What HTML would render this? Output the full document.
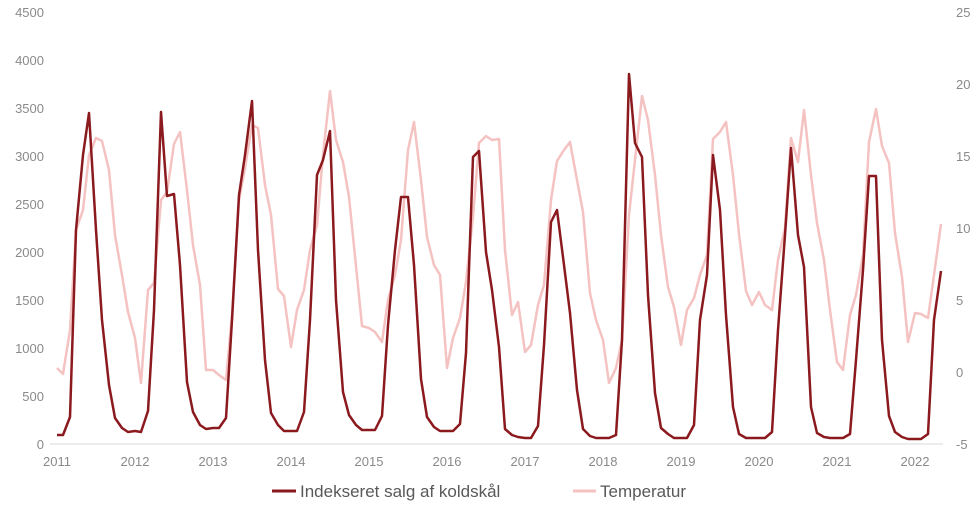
<!DOCTYPE html>
<html><head><meta charset="utf-8"><style>
html,body{margin:0;padding:0;background:#fff;}
svg{display:block;font-family:"Liberation Sans",sans-serif;}
</style></head><body>
<svg width="980" height="512" viewBox="0 0 980 512">
<line x1="50" y1="444" x2="943" y2="444" stroke="#d9d9d9" stroke-width="1"/>
<g fill="#8a8a8a" font-size="13" text-anchor="end">
<text x="44" y="449">0</text><text x="44" y="401">500</text><text x="44" y="353">1000</text>
<text x="44" y="305">1500</text><text x="44" y="257">2000</text><text x="44" y="209">2500</text>
<text x="44" y="161">3000</text><text x="44" y="113">3500</text><text x="44" y="65">4000</text>
<text x="44" y="17">4500</text>
</g>
<g fill="#8a8a8a" font-size="13" text-anchor="start">
<text x="956" y="449">-5</text><text x="956" y="377">0</text><text x="956" y="305">5</text>
<text x="956" y="233">10</text><text x="956" y="161">15</text><text x="956" y="89">20</text>
<text x="956" y="17">25</text>
</g>
<g fill="#8a8a8a" font-size="13" text-anchor="middle">
<text x="57" y="466">2011</text><text x="135" y="466">2012</text><text x="213" y="466">2013</text>
<text x="291" y="466">2014</text><text x="369" y="466">2015</text><text x="447" y="466">2016</text>
<text x="525" y="466">2017</text><text x="603" y="466">2018</text><text x="681" y="466">2019</text>
<text x="759" y="466">2020</text><text x="837" y="466">2021</text><text x="915" y="466">2022</text>
</g>
<polyline fill="none" stroke="#f5c2c2" stroke-width="2.5" stroke-linejoin="round" points="57,368 63,374 70,330 76,230 83,210 89,155 96,138 102,141 109,170 115,235 122,275 128,312 135,338 141,383 148,290 154,283 161,200 167,192 174,144 180,132 187,190 193,245 200,285 206,370 213,370 219,375 226,380 232,315 239,200 245,168 252,125 258,128 265,185 271,215 278,289 284,296 291,347 297,310 304,290 310,250 317,225 323,155 330,91 336,140 343,162 349,197 356,266 362,326 369,328 375,332 382,342 388,300 395,275 401,240 408,150 414,122 421,180 427,237 434,265 440,275 447,368 453,338 460,318 466,282 473,217 479,143 486,136 492,140 499,139 505,250 512,315 518,302 525,352 531,345 538,305 544,285 551,200 557,161 564,150 570,142 577,180 583,212 590,293 596,320 603,340 609,383 616,368 622,340 629,215 635,160 642,96 648,120 655,175 661,235 668,287 674,307 681,345 687,310 694,298 700,275 707,255 713,139 720,132 726,122 733,175 739,234 746,291 752,305 759,292 765,305 772,310 778,260 785,228 791,138 798,162 804,110 811,175 817,223 824,260 830,310 837,362 843,370 850,315 856,295 863,255 869,142 876,109 882,146 889,163 895,233 902,277 908,342 915,313 921,314 928,318 934,275 941,224"/>
<polyline fill="none" stroke="#8b1a1f" stroke-width="2.5" stroke-linejoin="round" points="57,435 63,435 70,417 76,230 83,155 89,113 96,230 102,320 109,385 115,418 122,428 128,432 135,431 141,432 148,411 154,310 161,112 167,196 174,194 180,265 187,382 193,412 200,425 206,429 213,428 219,428 226,418 232,320 239,195 245,155 252,101 258,250 265,360 271,413 278,425 284,431 291,431 297,431 304,412 310,320 317,175 323,160 330,131 336,300 343,392 349,415 356,425 362,430 369,430 375,430 382,416 388,325 395,250 401,197 408,197 414,265 421,379 427,417 434,427 440,431 447,431 453,431 460,424 466,353 473,157 479,151 486,252 492,290 499,347 505,429 512,435 518,437 525,438 531,438 538,426 544,345 551,222 557,210 564,265 570,313 577,390 583,429 590,436 596,438 603,438 609,438 616,435 622,340 629,74 635,143 642,157 648,295 655,393 661,428 668,434 674,438 681,438 687,438 694,425 700,320 707,275 713,155 720,210 726,315 733,407 739,434 746,438 752,438 759,438 765,438 772,432 778,330 785,235 791,148 798,235 804,267 811,407 817,433 824,437 830,438 837,438 843,438 850,434 856,360 863,270 869,176 876,176 882,340 889,416 895,432 902,437 908,439 915,439 921,439 928,434 934,320 941,271"/>
<line x1="272" y1="491" x2="296" y2="491" stroke="#8b1a1f" stroke-width="3"/>
<text x="300" y="497" fill="#595959" font-size="17">Indekseret salg af koldskål</text>
<line x1="573" y1="491" x2="596" y2="491" stroke="#f5c2c2" stroke-width="3"/>
<text x="600" y="497" fill="#595959" font-size="17">Temperatur</text>
</svg>
</body></html>
